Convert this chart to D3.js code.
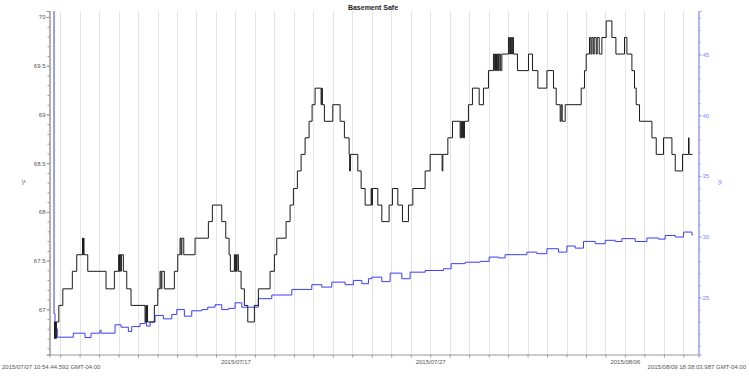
<!DOCTYPE html>
<html>
<head>
<meta charset="utf-8">
<script src="https://cdn.jsdelivr.net/npm/d3@7"></script>
<style>
  body { margin: 0; background: #fff; }
  text { font-family: "Liberation Sans", Arial, sans-serif; }
</style>
</head>
<body>
<div id="plot"></div>
<script>
// readings, in days since 2015-07-07 00:00 (local, GMT-04:00)
const tempDays = [
  0.687, 0.712, 0.748, 0.779, 0.805, 0.933, 1.139, 1.627, 1.853, 2.150,
  2.176, 2.197, 2.227, 2.418, 3.357, 3.784, 4.005, 4.046, 4.077, 4.117,
  4.143, 4.246, 4.421, 4.641, 5.360, 5.402, 5.432, 5.463, 5.489, 5.838,
  6.013, 6.131, 6.182, 6.223, 6.351, 6.865, 7.040, 7.158, 7.209, 7.250,
  7.348, 7.928, 8.612, 8.817, 9.300, 9.505, 9.675, 9.742, 9.947, 9.983,
  10.014, 10.050, 10.086, 10.152, 10.291, 10.460, 10.635, 10.974, 11.179, 11.780,
  12.001, 12.124, 12.602, 12.807, 12.977, 13.182, 13.373, 13.578, 13.783, 13.937,
  14.091, 14.399, 14.435, 14.466, 14.569, 15.000, 15.375, 15.596, 15.838, 15.864,
  15.905, 16.285, 16.455, 16.660, 16.968, 16.999, 17.035, 17.312, 17.517, 17.892,
  18.062, 18.339, 18.575, 18.884, 19.110, 19.741, 19.998, 20.614, 20.650, 20.907,
  21.144, 21.539, 21.575, 21.616, 21.657, 21.708, 21.760, 21.965, 22.170, 22.515,
  22.736, 22.992, 23.249, 23.311, 23.352, 23.403, 23.450, 23.501, 23.542, 23.603,
  23.680, 24.019, 24.081, 24.122, 24.183, 24.219, 24.276, 24.481, 25.047, 25.252,
  25.530, 25.992, 26.331, 26.470, 26.675, 26.726, 26.778, 26.932, 27.753, 27.923,
  28.010, 28.180, 28.252, 28.303, 28.370, 28.421, 28.524, 28.575, 28.678, 28.817,
  29.037, 29.330, 29.536, 29.977, 30.101, 30.357, 30.491, 30.578, 30.748, 31.385,
  31.606, 31.981, 32.412, 32.582, 32.957, 33.265, 33.290, 33.470
];
const tempValues = [
  66.87, 66.70, 66.87, 66.70, 66.87, 67.04, 67.21, 67.39, 67.56, 67.73,
  67.56, 67.73, 67.56, 67.39, 67.21, 67.39, 67.56, 67.39, 67.56, 67.39,
  67.56, 67.39, 67.21, 67.04, 66.87, 67.04, 66.87, 67.04, 66.87, 67.04,
  67.21, 67.39, 67.21, 67.39, 67.21, 67.39, 67.56, 67.73, 67.56, 67.73,
  67.56, 67.73, 67.90, 68.07, 67.90, 67.73, 67.56, 67.39, 67.56, 67.39,
  67.56, 67.39, 67.56, 67.39, 67.21, 67.04, 66.87, 67.04, 67.21, 67.39,
  67.56, 67.73, 67.90, 68.07, 68.24, 68.42, 68.59, 68.76, 68.93, 69.10,
  69.27, 69.10, 69.27, 69.10, 68.93, 69.10, 68.93, 68.76, 68.59, 68.42,
  68.59, 68.42, 68.24, 68.07, 68.24, 68.07, 68.24, 68.07, 67.90, 68.07,
  68.24, 68.07, 67.90, 68.07, 68.24, 68.42, 68.59, 68.42, 68.59, 68.76,
  68.93, 68.76, 68.93, 68.76, 68.93, 68.76, 68.93, 69.10, 69.27, 69.10,
  69.27, 69.45, 69.62, 69.45, 69.62, 69.45, 69.62, 69.45, 69.62, 69.45,
  69.62, 69.79, 69.62, 69.79, 69.62, 69.79, 69.62, 69.45, 69.62, 69.45,
  69.27, 69.45, 69.27, 69.10, 68.93, 69.10, 68.93, 69.10, 69.27, 69.45,
  69.62, 69.79, 69.62, 69.79, 69.62, 69.79, 69.62, 69.79, 69.62, 69.79,
  69.96, 69.79, 69.62, 69.79, 69.62, 69.45, 69.27, 69.10, 68.93, 68.76,
  68.59, 68.76, 68.59, 68.42, 68.59, 68.76, 68.59, 68.59
];

const humDays = [
  0.671, 0.687, 0.738, 0.789, 0.856, 1.678, 2.279, 2.587, 3.049, 3.101,
  3.820, 4.128, 4.503, 4.677, 5.104, 5.360, 5.437, 5.617, 5.874, 6.300,
  6.732, 6.989, 7.379, 7.759, 8.273, 8.581, 8.956, 9.300, 9.639, 9.983,
  10.327, 10.666, 11.179, 11.868, 12.895, 13.578, 13.922, 14.435, 14.949, 15.632,
  16.058, 16.490, 16.829, 17.004, 17.517, 17.943, 18.544, 18.971, 19.741, 20.681,
  21.076, 21.796, 22.566, 23.028, 23.506, 23.850, 24.620, 24.964, 25.478, 25.992,
  26.587, 27.019, 27.445, 27.872, 28.473, 28.986, 29.500, 29.844, 30.527, 31.128,
  31.723, 32.067, 32.582, 33.008, 33.439, 33.470
];
const humValues = [
  80, 23.66, 22.9, 22.42, 21.73, 22.06, 21.70, 22.06, 22.3, 22.06,
  22.75, 22.55, 22.2, 22.6, 22.85, 22.97, 22.64, 22.97, 23.52, 23.24,
  23.6, 24.0, 23.46, 23.9, 24.0, 24.2, 24.4, 24.0, 24.1, 24.56,
  24.2, 24.2, 24.9, 25.2, 25.66, 25.66, 26.05, 25.85, 26.26, 26.05,
  26.4, 26.13, 26.54, 26.67, 26.3, 27.0, 26.54, 27.08, 27.22, 27.36,
  27.78, 27.9, 27.97, 28.32, 28.25, 28.52, 28.52, 28.73, 28.6, 29.01,
  28.73, 29.23, 29.06, 29.61, 29.42, 29.7, 29.6, 29.84, 29.6, 29.89,
  29.8, 30.1, 29.97, 30.38, 30.16, 30.1
];

const title = "Basement Safe";
const rangeLabels = ["2015/07/07 10:54:44.592 GMT-04:00", "2015/08/09 18:38:03.987 GMT-04:00"];
const leftTicks = [67, 67.5, 68, 68.5, 69, 69.5, 70];
const rightTicks = [25, 30, 35, 40, 45];

// times are kept as UTC stand-ins for local time
const t0 = Date.UTC(2015, 6, 7);
const toDate = d => new Date(t0 + d * 864e5);
const startTime = new Date(Date.UTC(2015, 6, 7, 10, 54, 44, 592));
const endTime = new Date(Date.UTC(2015, 7, 9, 18, 38, 3, 987));

const width = 749, height = 378;
const pLeft = 49.5, pRight = 698.5, pTop = 11, pBottom = 354.5;

let svg = d3.select('#plot').append('svg')
  .attr('width', width).attr('height', height);

let x = d3.scaleUtc().domain([startTime, endTime]).range([pLeft, pRight]);
let yT = d3.scaleLinear().domain([66.536, 70.062]).range([pBottom, pTop]);
let yH = d3.scaleLinear().domain([20.305, 48.57]).range([pBottom, pTop]);

// day gridlines
let days = d3.utcDay.range(d3.utcDay.ceil(startTime), endTime);
svg.append('g').selectAll('line').data(days).join('line')
  .attr('x1', d => Math.round(x(d)) + 0.5).attr('x2', d => Math.round(x(d)) + 0.5)
  .attr('y1', pTop).attr('y2', pBottom)
  .attr('stroke', '#e4e4e4');

svg.append('defs').append('clipPath').attr('id', 'clip')
  .append('rect').attr('x', pLeft).attr('y', pTop)
  .attr('width', pRight - pLeft).attr('height', pBottom - pTop);

// bottom axis
let labelDays = days.filter(d => d3.utcDay.count(d3.utcDay(startTime), d) % 10 === 0);
let xAxis = d3.axisBottom(x).tickValues(days).tickSize(3)
  .tickFormat(d => labelDays.some(l => +l === +d) ? d3.utcFormat('%Y/%m/%d')(d) : '');
let gx = svg.append('g').attr('transform', `translate(0,${pBottom})`).call(xAxis);
gx.select('.domain').attr('stroke', '#999');
gx.selectAll('.tick line').attr('stroke', '#999');
gx.selectAll('.tick text').attr('fill', '#555').attr('font-size', 6).attr('dy', '0.5em')
  .attr('font-family', 'Liberation Sans, Arial, sans-serif');

// left axis
let gl = svg.append('g').attr('transform', `translate(${pLeft},0)`)
  .call(d3.axisLeft(yT).tickValues(d3.range(66.6, 70.05, 0.1)).tickSize(2).tickFormat(''));
gl.call(g => g.append('g').call(d3.axisLeft(yT).tickValues(leftTicks).tickSize(3).tickPadding(1).tickFormat(d3.format('~g'))));
gl.selectAll('.domain').attr('stroke', '#999');
gl.selectAll('.tick line').attr('stroke', '#999');
gl.selectAll('.tick text').attr('fill', '#555').attr('font-size', 6)
  .attr('font-family', 'Liberation Sans, Arial, sans-serif');

// right axis
let gr = svg.append('g').attr('transform', `translate(${pRight},0)`)
  .call(d3.axisRight(yH).tickValues(d3.range(21, 49, 1)).tickSize(2).tickFormat(''));
gr.call(g => g.append('g').call(d3.axisRight(yH).tickValues(rightTicks).tickSize(3).tickPadding(1)));
gr.selectAll('.domain').attr('stroke', '#9999ff');
gr.selectAll('.tick line').attr('stroke', '#9999ff');
gr.selectAll('.tick text').attr('fill', '#8080ff').attr('font-size', 6)
  .attr('font-family', 'Liberation Sans, Arial, sans-serif');

// series
let tempLine = d3.line().curve(d3.curveStepAfter)
  .x((d, i) => x(toDate(d))).y((d, i) => yT(tempValues[i]));
let humLine = d3.line().curve(d3.curveStepAfter)
  .x((d, i) => x(toDate(d))).y((d, i) => yH(humValues[i]));

let plot = svg.append('g').attr('clip-path', 'url(#clip)');
plot.append('path').attr('d', humLine(humDays))
  .attr('fill', 'none').attr('stroke', '#3b3bff').attr('stroke-width', 1);
plot.append('path').attr('d', tempLine(tempDays))
  .attr('fill', 'none').attr('stroke', '#1a1a1a').attr('stroke-width', 1);

// texts
svg.append('text').attr('x', 373).attr('y', 10).attr('text-anchor', 'middle')
  .attr('font-size', 7).attr('font-weight', 'bold').attr('fill', '#222').text(title);
svg.append('text').attr('x', 2).attr('y', 368.5).attr('font-size', 6).attr('fill', '#555').text(rangeLabels[0]);
svg.append('text').attr('x', 746).attr('y', 368.5).attr('text-anchor', 'end')
  .attr('font-size', 6).attr('fill', '#555').text(rangeLabels[1]);
svg.append('text').attr('transform', 'translate(26,182) rotate(-90)').attr('text-anchor', 'middle')
  .attr('font-size', 6).attr('fill', '#555').text('°F');
svg.append('text').attr('transform', 'translate(722,182) rotate(-90)').attr('text-anchor', 'middle')
  .attr('font-size', 6).attr('fill', '#8080ff').text('%');
</script>
</body>
</html>
